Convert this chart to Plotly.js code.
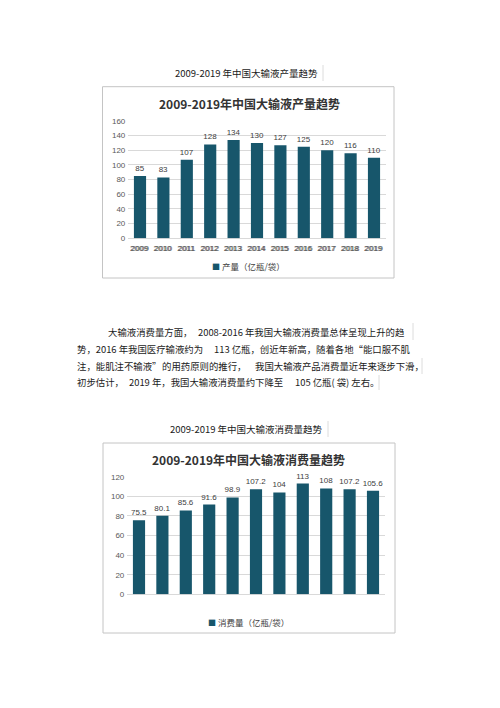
<!DOCTYPE html>
<html>
<head>
<meta charset="utf-8">
<script src="https://cdn.plot.ly/plotly-3.0.1.min.js"></script>
<style>html,body{margin:0;padding:0;background:#fff;}#chart{width:500px;height:708px;}</style>
</head>
<body>
<div id="chart"></div>
<script>
// ---- data ----
const years = ['2009','2010','2011','2012','2013','2014','2015','2016','2017','2018','2019'];
const production = [85, 83, 107, 128, 134, 130, 127, 125, 120, 116, 110];
const consumption = [75.5, 80.1, 85.6, 91.6, 98.9, 107.2, 104, 113, 108, 107.2, 105.6];
const prodName = '产量（亿瓶/袋）';
const consName = '消费量（亿瓶/袋）';
const caption1 = '2009-2019 年中国大输液产量趋势';
const caption2 = '2009-2019 年中国大输液消费量趋势';
const title1 = '2009-2019年中国大输液产量趋势';
const title2 = '2009-2019年中国大输液消费量趋势';
const bodyLines = [
  [[106, '大输液消费量方面，'], [196, '2008-2016 年我国大输液消费量总体呈现上升的趋']],
  [[75, '势，2016 年我国医疗输液约为'], [212, '113 亿瓶，创近年新高，随着各地“能口服不肌']],
  [[75, '注，能肌注不输液”'], [160, '的用药原则的推行，'], [253, '我国大输液产品消费量近年来逐步下滑，']],
  [[75, '初步估计，'], [127, '2019 年，我国大输液消费量约下降至'], [293, '105 亿瓶( 袋) 左右。']]
];
const bodyY = [332, 348.7, 365.7, 382];

// ---- helpers ----
const W = 500, H = 708;
const fx = p => p / W;
const fy = p => 1 - p / H;
const BAR = '#17566b';
const FONT = 'Liberation Sans, Arial, sans-serif';
const CJK = 'Noto Sans CJK SC, sans-serif';

const traces = [
  {type: 'bar', x: years, y: production, name: prodName, xaxis: 'x', yaxis: 'y',
   marker: {color: BAR}, text: production.map(String), textposition: 'outside', constraintext: 'none',
   textfont: {size: 8, color: '#404040', family: FONT}, cliponaxis: false,
   showlegend: false, hoverinfo: 'none'},
  {type: 'bar', x: years, y: consumption, name: consName, xaxis: 'x2', yaxis: 'y2',
   marker: {color: BAR}, text: consumption.map(String), textposition: 'outside', constraintext: 'none',
   textfont: {size: 8, color: '#404040', family: FONT}, cliponaxis: false,
   showlegend: false, hoverinfo: 'none'}
];

const axX = dom => ({domain: dom, type: 'category', showgrid: false, zeroline: false, showline: false,
  ticks: '', ticklabelstandoff: 4, tickfont: {size: 8, color: '#595959', family: FONT}, fixedrange: true});
const axY = (dom, anchor, max) => ({domain: dom, anchor: anchor, range: [0, max], dtick: 20,
  showgrid: true, gridcolor: '#d9d9d9', gridwidth: 1, zeroline: true, zerolinecolor: '#d9d9d9',
  showline: false, ticks: '', ticklabelstandoff: 2, tickfont: {size: 8, color: '#595959', family: FONT}, fixedrange: true});

const annotations = [];
const addText = (x, y, text, size, opts) => annotations.push(Object.assign({
  xref: 'paper', yref: 'paper', x: fx(x), y: fy(y), text: text, showarrow: false,
  xanchor: 'center', yanchor: 'middle', font: {size: size, color: '#1a1a1a', family: CJK}
}, opts || {}));

addText(246, 73, caption1, 9.5);
addText(246, 429, caption2, 9.5);
addText(249, 104, '<b>' + title1 + '</b>', 12, {font: {size: 12, color: '#333333', family: CJK}});
addText(248, 459, '<b>' + title2 + '</b>', 12, {font: {size: 12, color: '#333333', family: CJK}});
bodyLines.forEach((line, i) => line.forEach(seg =>
  addText(seg[0], bodyY[i], seg[1], 9.4, {xanchor: 'left', font: {size: 9.4, color: '#1a1a1a', family: CJK}})));
// legends
const legendText = name => '<span style="color:' + BAR + ';font-size:8px">■</span> ' + name;
addText(248, 266, legendText(prodName), 8.5, {font: {size: 8.5, color: '#404040', family: CJK}});
addText(248, 622, legendText(consName), 8.5, {font: {size: 8.5, color: '#404040', family: CJK}});

const rect = (x0, y0, x1, y1) => ({type: 'rect', xref: 'paper', yref: 'paper',
  x0: fx(x0), x1: fx(x1), y0: fy(y0), y1: fy(y1), line: {color: '#c4c4c4', width: 1}, fillcolor: 'rgba(0,0,0,0)'});
const vline = (x, y0, y1) => ({type: 'line', xref: 'paper', yref: 'paper',
  x0: fx(x), x1: fx(x), y0: fy(y0), y1: fy(y1), line: {color: '#dcdcdc', width: 1}});

const shapes = [
  rect(102.5, 86.7, 394, 278),
  rect(103, 443, 395, 633),
  vline(323, 65, 81), vline(328, 421, 437),
  vline(413, 323, 340), vline(422, 358, 374), vline(379, 375, 390)
];

const layout = {
  width: W, height: H, margin: {l: 0, r: 0, t: 0, b: 0},
  paper_bgcolor: '#ffffff', plot_bgcolor: '#ffffff',
  bargap: 0.48, showlegend: false,
  xaxis: axX([fx(128.3), fx(385.7)]),
  yaxis: axY([fy(238.3), fy(121)], 'x', 160),
  xaxis2: axX([fx(127.3), fx(384.7)]),
  yaxis2: axY([fy(594.3), fy(476.7)], 'x2', 120),
  annotations: annotations, shapes: shapes
};

Plotly.newPlot('chart', traces, layout, {displayModeBar: false, staticPlot: true});
</script>
</body>
</html>
